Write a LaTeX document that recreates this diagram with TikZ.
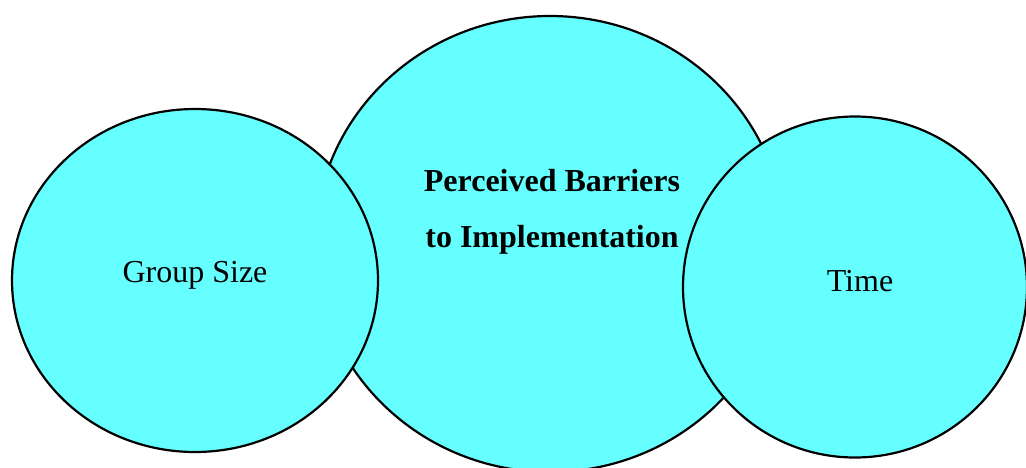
\documentclass[tikz,border=0pt]{standalone}
\usepackage{fontspec}
\setmainfont{Liberation Serif}
\usetikzlibrary{shapes.geometric}
\definecolor{bubblecyan}{RGB}{102,255,255}
\tikzset{
  bubble/.style={ellipse, draw=black, fill=bubblecyan, line width=2.2pt, inner sep=0pt},
  bubbletext/.style={anchor=base, inner sep=0pt, font=\fontsize{32}{32}\selectfont},
}

\begin{document}
\begin{tikzpicture}[x=1pt,y=-1pt]
        \useasboundingbox (0,0) rectangle (1026,467);
        \clip (0,0) rectangle (1026,467);
        \node [bubble, minimum width=470pt, minimum height=456pt] (barriers) at (550,244) {};
        \node [bubble, minimum width=366pt, minimum height=343pt] (group) at (195,280.5) {};
        \node [bubble, minimum width=344pt, minimum height=341pt] (time) at (855,287) {};

        \node [bubbletext, font=\fontsize{32}{32}\selectfont\bfseries] (barriers1) at (552,191) {Perceived Barriers};
        \node [bubbletext, font=\fontsize{32}{32}\selectfont\bfseries] (barriers2) at (552,247) {to Implementation};
        \node [bubbletext] (grouptext) at (195,282) {Group Size};
        \node [bubbletext] (timetext) at (860,291) {Time};
      \end{tikzpicture}
\end{document}
